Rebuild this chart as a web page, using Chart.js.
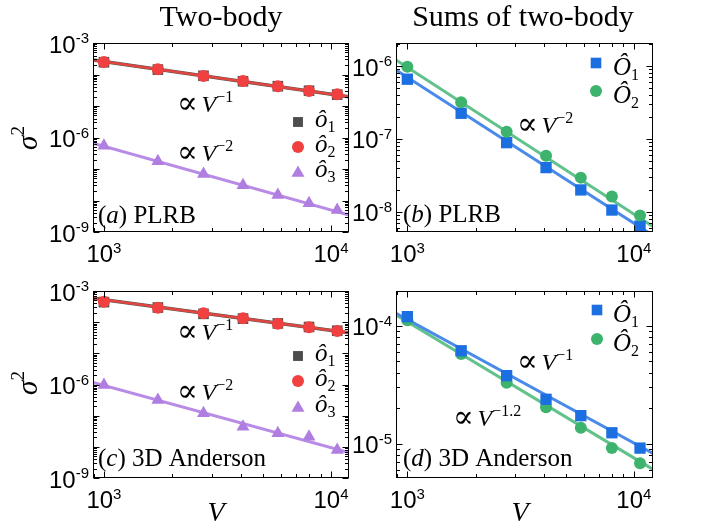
<!DOCTYPE html>
<html>
<head>
<meta charset="utf-8">
<script src="https://cdn.jsdelivr.net/npm/chart.js@4.4.0/dist/chart.umd.min.js"></script>
<style>
  body { margin: 0; background: #fff; }
  #wrap { position: relative; width: 704px; height: 523px; }
  #wrap canvas { position: absolute; left: 0; top: 0; }
</style>
</head>
<body>
<div id="wrap">
  <canvas id="pa" width="704" height="523"></canvas>
  <canvas id="pb" width="704" height="523"></canvas>
  <canvas id="pc" width="704" height="523"></canvas>
  <canvas id="pd" width="704" height="523"></canvas>
</div>
<script>
// system sizes V = L^3
const volumes = [1000, 1728, 2744, 4096, 5832, 8000, 10648];

// (a) PLRB, two-body
const plrbO1 = [2.45e-4, 1.43e-4, 9.1e-5, 6.1e-5, 4.25e-5, 3.05e-5, 2.3e-5];
const plrbO2 = [2.49e-4, 1.46e-4, 8.95e-5, 6.2e-5, 4.2e-5, 2.99e-5, 2.35e-5];
const plrbO3 = [5.5e-7, 1.75e-7, 6.9e-8, 3.04e-8, 1.5e-8, 8.15e-9, 4.99e-9];
const plrbFit12 = [2.88e-4, 1.97e-5];
const plrbFit3 = [6.55e-7, 3.47e-9];

// (b) PLRB, sums of two-body
const plrbS1 = [6.6e-7, 2.25e-7, 8.9e-8, 4.05e-8, 2.0e-8, 1.06e-8, 6.4e-9];
const plrbS2 = [9.8e-7, 3.18e-7, 1.26e-7, 5.9e-8, 2.95e-8, 1.62e-8, 8.9e-9];
const plrbFitS1 = [8.8e-7, 4.74e-9];
const plrbFitS2 = [1.21e-6, 6.3e-9];

// (c) 3D Anderson, two-body
const andO1 = [4.4e-4, 2.95e-4, 1.85e-4, 1.3e-4, 9.1e-5, 7.0e-5, 5.3e-5];
const andO2 = [4.5e-4, 2.9e-4, 1.92e-4, 1.34e-4, 8.9e-5, 6.9e-5, 5.2e-5];
const andO3 = [9.6e-7, 3.18e-7, 1.19e-7, 4.43e-8, 2.72e-8, 2.12e-8, 7.9e-9];
const andFit12 = [5.83e-4, 4.59e-5];
const andFit3 = [1.17e-6, 6.5e-9];

// (d) 3D Anderson, sums of two-body
const andS1 = [1.19e-4, 6.12e-5, 3.77e-5, 2.38e-5, 1.73e-5, 1.24e-5, 9.2e-6];
const andS2 = [1.11e-4, 5.74e-5, 3.28e-5, 2.04e-5, 1.37e-5, 9.2e-6, 6.84e-6];
const andFitS1 = [1.27e-4, 8.3e-6];
const andFitS2 = [1.23e-4, 6.08e-6];

// fit lines run from axis edge to axis edge
const fitXLeft = [895, 12000];
const fitXRight = [891, 12150];

// tick labels (powers of ten)
const xTickExp = [3, 4];
const yTickExpAC = [-9, -6, -3];
const yTickExpB = [-8, -7, -6];
const yTickExpD = [-5, -4];

const SERIF = '"Liberation Serif", "DejaVu Serif", serif';
const SANS = '"Liberation Sans", Arial, sans-serif';
const GRAY = '#4d4d4d', RED = '#f0403f', PURPLE = '#b07ee0';
const BLUE = '#1c6fe0', GREEN = '#3db36e';

function pts(xs, ys) {
  return xs.map((x, i) => ({ x: x, y: ys[i] }));
}

function marks(data, style, r, color, order) {
  return {
    data: pts(volumes, data), pointStyle: style, pointRadius: r,
    backgroundColor: color, borderColor: color, pointBorderWidth: 0,
    showLine: false, order: order
  };
}

function fit(xs, ys, color, w, order) {
  return {
    data: pts(xs, ys), showLine: true, pointRadius: 0,
    borderColor: color, borderWidth: w, order: order
  };
}

function drawRuns(ctx, x, y, runs, align) {
  let w = 0;
  runs.forEach(r => { ctx.font = r[1]; w += ctx.measureText(r[0]).width; });
  let cx = align === 'right' ? x - w : align === 'center' ? x - w / 2 : x;
  runs.forEach(r => {
    ctx.font = r[1];
    ctx.fillText(r[0], cx, y + (r[2] || 0));
    cx += ctx.measureText(r[0]).width;
  });
}

function logTicks(min, max) {
  const out = [];
  for (let e = Math.floor(Math.log10(min)); e <= Math.ceil(Math.log10(max)); e++) {
    for (let m = 1; m < 10; m++) {
      const v = m * Math.pow(10, e);
      if (v >= min * 0.999 && v <= max * 1.001) out.push({ v: v, major: m === 1 });
    }
  }
  return out;
}

function frame(chart, yExp) {
  const ctx = chart.ctx, a = chart.chartArea;
  const xs = chart.scales.x, ys = chart.scales.y;
  const L = Math.round(a.left) + 0.5, R = Math.round(a.right) - 0.5;
  const T = Math.round(a.top) + 0.5, B = Math.round(a.bottom) - 0.5;
  ctx.save();
  ctx.strokeStyle = '#000';
  ctx.lineWidth = 1;
  ctx.strokeRect(L, T, R - L, B - T);
  ctx.beginPath();
  logTicks(xs.min, xs.max).forEach(t => {
    const p = Math.round(xs.getPixelForValue(t.v)) + 0.5, n = t.major ? 6 : 3.5;
    ctx.moveTo(p, B); ctx.lineTo(p, B - n);
    ctx.moveTo(p, T); ctx.lineTo(p, T + n);
  });
  logTicks(ys.min, ys.max).forEach(t => {
    const p = Math.round(ys.getPixelForValue(t.v)) + 0.5, n = t.major ? 6 : 3.5;
    ctx.moveTo(L, p); ctx.lineTo(L + n, p);
    ctx.moveTo(R, p); ctx.lineTo(R - n, p);
  });
  ctx.stroke();

  ctx.fillStyle = '#000';
  ctx.textBaseline = 'alphabetic';
  xTickExp.forEach(e => {
    const p = xs.getPixelForValue(Math.pow(10, e));
    drawRuns(ctx, p, a.bottom + 30, [['10', '24px ' + SANS], [String(e), '15px ' + SANS, -9]], 'center');
  });
  yExp.forEach(e => {
    const p = ys.getPixelForValue(Math.pow(10, e));
    drawRuns(ctx, a.left - 4, p + 9.5, [['10', '24px ' + SANS], [String(e), '15px ' + SANS, -9.5]], 'right');
  });
  ctx.restore();
}

function legendMark(ctx, style, r, color, x, y) {
  ctx.fillStyle = color;
  Chart.helpers.drawPoint(ctx, { pointStyle: style, radius: r, rotation: 0, borderWidth: 0 }, x, y);
}

function power(ctx, x, y, exp) {
  ctx.fillStyle = '#000';
  drawRuns(ctx, x, y, [
    ['\u221D', '31px "DejaVu Serif"', 1], [' ', '14px ' + SERIF],
    ['V', 'italic 24px ' + SERIF], [exp, '16px ' + SERIF, -10]
  ]);
}

function panelLabel(ctx, x, y, letter, name) {
  ctx.fillStyle = '#000';
  drawRuns(ctx, x, y, [['(', '25px ' + SERIF], [letter, 'italic 25px ' + SERIF], [') ' + name, '25px ' + SERIF]]);
}

function sub(ctx, x, y, base, n) {
  ctx.fillStyle = '#000';
  drawRuns(ctx, x, y, [[base, 'italic 25px ' + SERIF], [n, '16px ' + SERIF, 5]]);
}

function sigma(ctx, x, y) {
  ctx.save();
  ctx.translate(x, y);
  ctx.rotate(-Math.PI / 2);
  ctx.fillStyle = '#000';
  drawRuns(ctx, 0, 0, [['\u03C3', 'italic 29px ' + SERIF], ['2', '19px ' + SERIF, -13]], 'center');
  ctx.restore();
}

function makePanel(id, box, xr, yr, datasets, yExp, decor) {
  new Chart(document.getElementById(id), {
    type: 'scatter',
    data: { datasets: datasets },
    options: {
      responsive: false,
      animation: false,
      events: [],
      layout: { padding: { left: box[0], top: box[1], right: 704 - box[2], bottom: 523 - box[3] } },
      plugins: { legend: { display: false }, tooltip: { enabled: false } },
      scales: {
        x: { type: 'logarithmic', min: xr[0], max: xr[1], display: false },
        y: { type: 'logarithmic', min: yr[0], max: yr[1], display: false }
      }
    },
    plugins: [{
      id: 'deco',
      afterDraw(chart) {
        frame(chart, yExp);
        decor(chart.ctx);
      }
    }]
  });
}

// (a)
makePanel('pa', [93, 43, 349, 232], [895, 12000], [1e-9, 1e-3], [
  marks(plrbO2, 'circle', 6, RED, 1),
  marks(plrbO1, 'rect', 7.5, GRAY, 2),
  marks(plrbO3, 'triangle', 7.5, PURPLE, 3),
  fit(fitXLeft, plrbFit12, '#e2473f', 2.5, 5),
  fit(fitXLeft, plrbFit12, '#555', 3.6, 6),
  fit(fitXLeft, plrbFit3, '#b88be6', 3, 7)
], yTickExpAC, ctx => {
  ctx.fillStyle = '#000';
  drawRuns(ctx, 221, 26, [['Two-body', '30px ' + SERIF]], 'center');
  drawRuns(ctx, 523, 26, [['Sums of two-body', '30px ' + SERIF]], 'center');
  sigma(ctx, 37, 138);
  power(ctx, 177, 112, '\u22121');
  power(ctx, 177, 161, '\u22122');
  legendMark(ctx, 'rect', 7, GRAY, 298, 122);
  legendMark(ctx, 'circle', 6, RED, 298, 147);
  legendMark(ctx, 'triangle', 7.5, PURPLE, 298, 173);
  sub(ctx, 315, 127, '\u00F4', '1');
  sub(ctx, 315, 152, '\u00F4', '2');
  sub(ctx, 315, 177, '\u00F4', '3');
  panelLabel(ctx, 98, 223, 'a', 'PLRB');
});

// (b)
makePanel('pb', [396, 43, 653, 232], [891, 12150], [5.3e-9, 2.07e-6], [
  marks(plrbS2, 'circle', 6, GREEN, 1),
  marks(plrbS1, 'rect', 8, BLUE, 2),
  fit(fitXRight, plrbFitS2, '#62c28b', 3, 5),
  fit(fitXRight, plrbFitS1, '#4a8ae8', 3, 6)
], yTickExpB, ctx => {
  power(ctx, 517, 133, '\u22122');
  legendMark(ctx, 'rect', 7.5, BLUE, 596, 63);
  legendMark(ctx, 'circle', 6, GREEN, 596, 91);
  sub(ctx, 613, 75, '\u00D4', '1');
  sub(ctx, 613, 103, '\u00D4', '2');
  panelLabel(ctx, 403, 222, 'b', 'PLRB');
});

// (c)
makePanel('pc', [93, 291, 349, 478], [895, 12000], [1e-9, 1e-3], [
  marks(andO2, 'circle', 6, RED, 1),
  marks(andO1, 'rect', 7.5, GRAY, 2),
  marks(andO3, 'triangle', 7.5, PURPLE, 3),
  fit(fitXLeft, andFit12, '#e2473f', 2.5, 5),
  fit(fitXLeft, andFit12, '#555', 3.6, 6),
  fit(fitXLeft, andFit3, '#b88be6', 3, 7)
], yTickExpAC, ctx => {
  sigma(ctx, 37, 383);
  ctx.fillStyle = '#000';
  drawRuns(ctx, 216, 521, [['V', 'italic 28px ' + SERIF]], 'center');
  drawRuns(ctx, 520, 521, [['V', 'italic 28px ' + SERIF]], 'center');
  power(ctx, 177, 340, '\u22121');
  power(ctx, 177, 400, '\u22122');
  legendMark(ctx, 'rect', 7, GRAY, 298, 356);
  legendMark(ctx, 'circle', 6, RED, 298, 381);
  legendMark(ctx, 'triangle', 7.5, PURPLE, 298, 408);
  sub(ctx, 315, 361, '\u00F4', '1');
  sub(ctx, 315, 386, '\u00F4', '2');
  sub(ctx, 315, 412, '\u00F4', '3');
  panelLabel(ctx, 98, 466, 'c', '3D Anderson');
});

// (d)
makePanel('pd', [396, 291, 653, 478], [891, 12150], [5.14e-6, 1.96e-4], [
  marks(andS1, 'rect', 8, BLUE, 1),
  marks(andS2, 'circle', 6, GREEN, 2),
  fit(fitXRight, andFitS1, '#4a8ae8', 3, 5),
  fit(fitXRight, andFitS2, '#62c28b', 3, 6)
], yTickExpD, ctx => {
  power(ctx, 517, 370, '\u22121');
  power(ctx, 453, 426, '\u22121.2');
  legendMark(ctx, 'rect', 7.5, BLUE, 597, 310);
  legendMark(ctx, 'circle', 6, GREEN, 597, 339);
  sub(ctx, 613, 322, '\u00D4', '1');
  sub(ctx, 613, 351, '\u00D4', '2');
  panelLabel(ctx, 403, 466, 'd', '3D Anderson');
});
</script>
</body>
</html>
